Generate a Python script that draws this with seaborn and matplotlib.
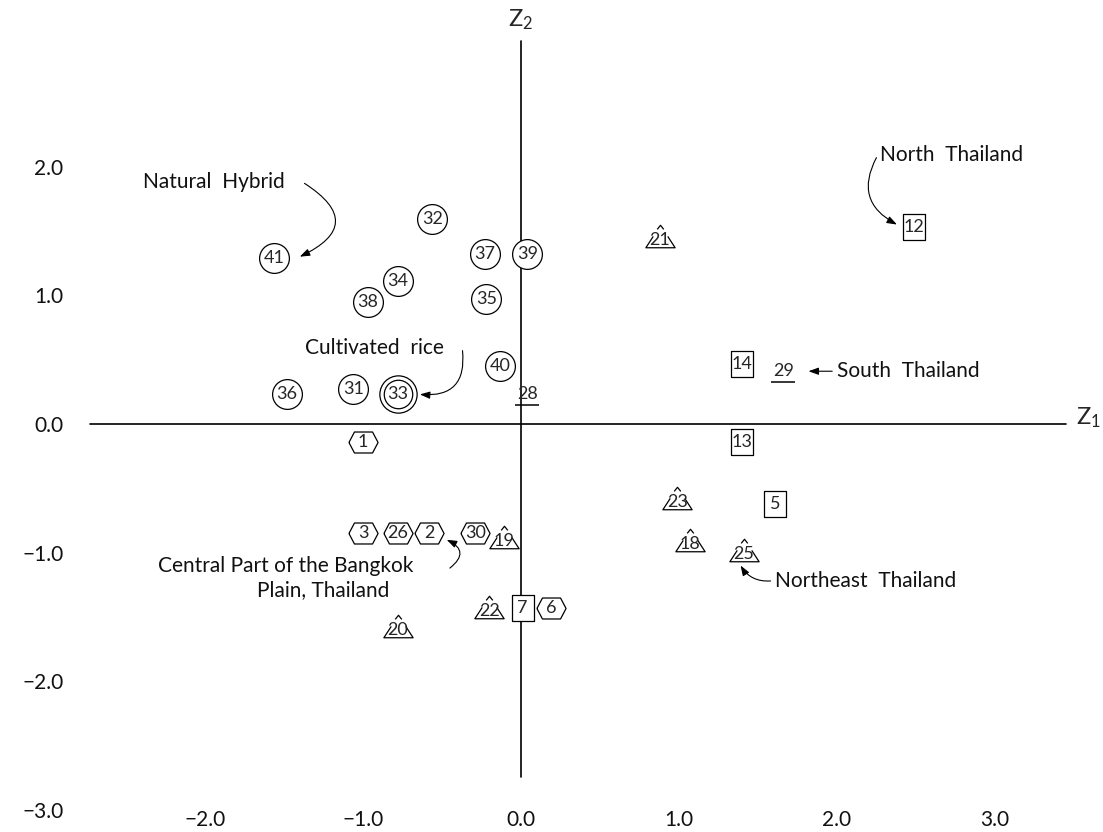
import numpy as np
import pandas as pd
import seaborn as sns
import matplotlib.pyplot as plt
from matplotlib.path import Path
from matplotlib.transforms import ScaledTranslation

# canonical scores (Z1, Z2), grouped by symbol
circle_ids = [31, 32, 34, 35, 36, 37, 38, 39, 40, 41]
circle_z1 = [-1.06, -0.56, -0.78, -0.22, -1.48, -0.23, -0.97, 0.04, -0.13, -1.56]
circle_z2 = [0.27, 1.59, 1.11, 0.97, 0.23, 1.32, 0.95, 1.32, 0.45, 1.29]

double_ids = [33]
double_z1 = [-0.78]
double_z2 = [0.23]

hex_ids = [1, 2, 3, 6, 26, 30]
hex_z1 = [-1.00, -0.58, -1.00, 0.19, -0.78, -0.29]
hex_z2 = [-0.14, -0.85, -0.85, -1.43, -0.85, -0.85]

tri_ids = [18, 19, 20, 21, 22, 23, 25]
tri_z1 = [1.07, -0.11, -0.78, 0.88, -0.20, 0.99, 1.41]
tri_z2 = [-0.93, -0.91, -1.60, 1.43, -1.45, -0.61, -1.01]

sq_ids = [5, 7, 12, 13, 14]
sq_z1 = [1.61, 0.01, 2.49, 1.40, 1.40]
sq_z2 = [-0.62, -1.43, 1.53, -0.14, 0.47]

under_ids = [28, 29]
under_z1 = [0.04, 1.66]
under_z2 = [0.23, 0.41]

xticks = [-2.0, -1.0, 0.0, 1.0, 2.0, 3.0]
yticks = [-3.0, -2.0, -1.0, 0.0, 1.0, 2.0]


def fmt(v):
    return ("\u2212" if v < 0 else "") + "%.1f" % abs(v)


sns.set_theme(style="white")
plt.rcParams['font.family'] = ['Lato', 'DejaVu Sans']
plt.rcParams['mathtext.default'] = 'regular'

fig = plt.figure(figsize=(11.03, 8.32), dpi=100)
ax = fig.add_axes([80 / 1103, 22 / 832, 1 - 80 / 1103, 1 - 22 / 832])
ax.set_xlim(-2.791, 3.684)
ax.set_ylim(-2.984, 3.295)
sns.despine(ax=ax, left=True, bottom=True)
ax.set_xticks(xticks)
ax.set_xticklabels([fmt(v) for v in xticks])
ax.set_yticks(yticks)
ax.set_yticklabels([fmt(v) for v in yticks])
ax.tick_params(axis='both', length=0, labelsize=15, colors='#111111')
ax.tick_params(axis='x', pad=0)
ax.tick_params(axis='y', pad=12)
ax.grid(False)

# the two axes through the origin
ax.plot([-2.73, 3.45], [0, 0], color='black', lw=1.2, zorder=1)
ax.plot([0, 0], [-2.74, 2.98], color='black', lw=1.2, zorder=1)
ax.text(3.59, 0.05, 'Z$_1$', fontsize=17, ha='center', va='center')
ax.text(0.0, 3.14, 'Z$_2$', fontsize=17, ha='center', va='center')

hexagon = Path([(-1, 0), (-0.62, 0.72), (0.62, 0.72), (1, 0), (0.62, -0.72), (-0.62, -0.72), (-1, 0)])
# triangle drawn as in the original: a caret on top, open sides, number sitting on the base
M, L = Path.MOVETO, Path.LINETO
triangle = Path([(-0.28, 0.95), (0, 1.3), (0.28, 0.95),
                 (-0.62, 0.35), (-1.25, -0.62), (1.25, -0.62), (0.62, 0.35)],
                [M, L, L, M, L, L, L])
box = Path([(-0.88, -1), (0.88, -1), (0.88, 1), (-0.88, 1), (-0.88, -1)])

kw = dict(color='white', edgecolor='black', linewidth=0.9, zorder=3, legend=False)
sns.scatterplot(x=circle_z1, y=circle_z2, marker='o', s=460, ax=ax, **kw)
sns.scatterplot(x=double_z1, y=double_z2, marker='o', s=720, ax=ax, **kw)
sns.scatterplot(x=double_z1, y=double_z2, marker='o', s=420, ax=ax, **kw)
sns.scatterplot(x=hex_z1, y=hex_z2, marker=hexagon, s=440, ax=ax, **kw)
sns.scatterplot(x=tri_z1, y=tri_z2, marker=triangle, s=480, ax=ax, **kw)
sns.scatterplot(x=sq_z1, y=sq_z2, marker=box, s=330, ax=ax, **kw)

for ids, xs, ys in [(circle_ids, circle_z1, circle_z2), (double_ids, double_z1, double_z2),
                    (hex_ids, hex_z1, hex_z2), (tri_ids, tri_z1, tri_z2),
                    (sq_ids, sq_z1, sq_z2), (under_ids, under_z1, under_z2)]:
    for i, x, y in zip(ids, xs, ys):
        ax.text(x, y, str(i), fontsize=13, ha='center', va='center', zorder=4)

# underlined numbers
shift = ax.transData + ScaledTranslation(0, -7.5 / 72, fig.dpi_scale_trans)
ax.plot(under_z1, under_z2, ls='none', marker='_', ms=17, mew=1.1, color='black', transform=shift)

# group labels with curved arrows
arrow = dict(arrowstyle='-|>,head_length=0.5,head_width=0.18', color='black', lw=0.8,
             shrinkA=0, shrinkB=0)
lab = dict(fontsize=15, ha='left', va='center', color='#111111')

ax.text(-2.39, 1.88, 'Natural  Hybrid', **lab)
ax.annotate('', xy=(-1.40, 1.30), xytext=(-1.37, 1.87),
            arrowprops=dict(arrow, connectionstyle='arc3,rad=-0.9'))

ax.text(-1.37, 0.59, 'Cultivated  rice', **lab)
ax.annotate('', xy=(-0.64, 0.23), xytext=(-0.37, 0.57),
            arrowprops=dict(arrow, connectionstyle='arc3,rad=-0.6'))

ax.text(-2.30, -1.10, 'Central Part of the Bangkok', **lab)
ax.text(-1.67, -1.29, 'Plain, Thailand', **lab)
ax.annotate('', xy=(-0.47, -0.90), xytext=(-0.45, -1.12),
            arrowprops=dict(arrow, connectionstyle='arc3,rad=0.8'))

ax.text(2.27, 2.09, 'North  Thailand', **lab)
ax.annotate('', xy=(2.38, 1.55), xytext=(2.25, 2.07),
            arrowprops=dict(arrow, connectionstyle='arc3,rad=0.5'))

ax.text(2.00, 0.41, 'South  Thailand', **lab)
ax.annotate('', xy=(1.82, 0.41), xytext=(1.97, 0.41), arrowprops=arrow)

ax.text(1.61, -1.22, 'Northeast  Thailand', **lab)
ax.annotate('', xy=(1.39, -1.10), xytext=(1.58, -1.22),
            arrowprops=dict(arrow, connectionstyle='arc3,rad=-0.3'))

fig.savefig('out.png', dpi=100)
